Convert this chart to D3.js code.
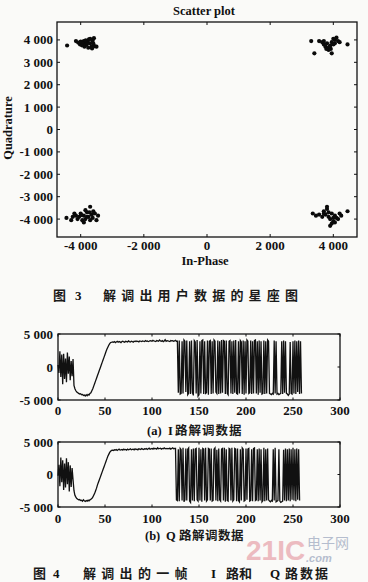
<!DOCTYPE html>
<html><head><meta charset="utf-8">
<script src="https://cdn.jsdelivr.net/npm/d3@7"></script>
<style>
html,body{margin:0;padding:0;background:#fafaf8;}
svg{display:block;}
.tk{font-family:"Liberation Serif","DejaVu Serif",serif;font-weight:bold;font-size:13px;fill:#111;}
.cj{font-family:"Noto Sans CJK SC",sans-serif;font-weight:bold;fill:#1a1a1a;}
</style></head>
<body>
<svg id="c" width="368" height="582"></svg>
<script>
// ---- constellation (scatter) data ----
const scatterI = [
-4430,-4150,-4080,-4020,-3980,-3940,-3900,-3860,-3820,-3780,-3740,-3700,-3660,-3620,-3580,-3560,-3880,-3760,-3640,-4000,-3920,-3840,-3700,-3600,-3800,-3960,-3500,
3300,3550,3650,3700,3750,3800,3850,3900,3950,4000,4050,4100,4150,3850,3780,3920,4000,3700,4450,3400,3950,4050,3880,4200,
-4450,-4300,-4150,-4100,-4050,-4000,-3950,-3900,-3850,-3800,-3750,-3700,-3650,-3600,-3550,-3500,-3700,-4200,-3900,-3800,-3980,-4250,-3620,-3720,-3450,-3850,
3350,3450,3550,3650,3700,3750,3800,3850,3900,3950,4000,4050,4100,4150,4250,4450,3900,3950,3850,4000,3700,4050,3800,4200];
const scatterQ = [
3750,3950,3880,3800,3900,3820,3950,3870,3780,3920,4020,3850,3700,3960,4080,3720,3700,3650,3620,3920,3860,3980,4050,3840,3820,3760,3700,
3950,3950,3900,3800,3700,3850,3650,3750,3900,3800,4000,4100,3950,3550,3600,3600,4050,3950,3800,3400,3400,3850,3700,3900,
-3950,-4050,-3850,-4000,-3900,-3750,-4050,-3850,-4000,-3700,-3900,-4050,-3800,-3650,-3750,-4050,-3450,-3750,-4150,-3900,-3820,-3900,-3950,-3700,-3850,-3600,
-3750,-3850,-3800,-3900,-3650,-3800,-3550,-3900,-4000,-3750,-4100,-3850,-3950,-4000,-3850,-3650,-4300,-4200,-3700,-3950,-3750,-4150,-3450,-3750];
const scatterTicksX = [-4000,-2000,0,2000,4000];
const scatterTicksY = [-4000,-3000,-2000,-1000,0,1000,2000,3000,4000];

// ---- time series: I channel (one frame) ----
const seriesI = [
300,-900,2400,-1500,1900,-2600,2000,-1800,1300,-2300,2200,-1000,1600,-2000,900,-1400,1200,
-2800,-3300,-3600,-3800,-3900,-4000,-4100,-4050,-4200,-4150,-4300,-4250,-4400,-4200,-4350,-4150,-4250,-4000,-3900,
-3600,-3300,-2900,-2500,-2100,-1700,-1300,-900,-500,-100,300,700,1100,1500,1900,2300,2700,3000,3300,3550,3700,3750,3800,
3750,3850,3700,3800,3900,3750,3850,3800,3700,3850,3900,3800,3750,3900,3850,3800,3950,3850,3800,3900,3850,3750,3900,3850,
3950,3850,3900,3800,3950,3900,3850,3950,3900,3850,4000,3900,3950,3850,3900,4000,3950,3900,4050,3950,3900,3850,4000,3950,
3900,4100,3950,3900,4000,3850,3950,4150,3900,4000,3950,3900,3850,4000,3950,4000,3900,3950,4050,3900,
3900,-3900,4000,-4100,-4000,3900,-4000,4100,3900,-3800,4000,-4200,-4000,3900,-4100,4000,-3900,-4300,4000,3800,
-4000,4100,-4400,-4200,3900,-4000,4000,4100,-4100,3900,-4000,-3900,4000,-4200,3900,4000,-4100,3900,-4000,4100,
3900,-3800,-4000,4000,-4100,3900,-4000,4100,-3900,4000,3900,-4100,4000,-4000,-4200,3900,4000,-4000,3900,-4100,
4000,-3900,4100,-4000,-4100,3900,-4000,4000,3800,-4100,4000,-4200,3900,-4000,4100,3900,-4000,-3900,4000,-4100,
3900,-4000,4000,4100,-4000,3900,-4200,4000,-3900,3900,-4100,-4000,4000,-4100,3900,-4000,4100,3900,-4000,-4100,
-4200,-4000,-4100,4000,-4000,3900,-4100,-4000,-4200,-4100,-4000,3900,-4100,4000,-3900,3900,-4000,-4100,-4300,-4100,
3800,-4000,-4100,3900,-4000,4000,-4100,3900,-3800,4000,-4100,3900,-4000];

// ---- time series: Q channel (one frame) ----
const seriesQ = [
-200,1500,-1800,2600,-1200,2200,-2400,1700,-2000,2500,-1500,1900,-2600,1400,-1900,1000,-800,
-2500,-3200,-3500,-3700,-3800,-3900,-3850,-4000,-3950,-4100,-3900,-4050,-4150,-4000,-4100,-3950,-4050,-3900,-3800,-3700,
-3500,-3200,-2900,-2500,-2100,-1600,-1200,-800,-400,0,400,800,1200,1600,2000,2400,2800,3100,3400,3600,3700,3750,
3700,3800,3750,3850,3700,3800,3900,3750,3800,3850,3750,3900,3800,3850,3750,3900,3800,3850,3950,3800,3850,3900,3800,3950,
3850,3900,3800,3950,3900,3850,4000,3900,3850,3950,3900,4000,3850,3950,4050,3900,3950,4000,3900,4050,3950,4000,3900,4100,
3950,4000,4050,3900,4000,3950,4100,3950,4000,3950,4000,3950,4050,3900,4000,4100,3950,4000,
4000,-3900,-4000,3900,-4100,4000,3800,-4000,4100,-4200,-3900,4000,-4000,3900,4100,-4100,-4300,3900,-4000,4000,
-4100,3900,4000,-3900,-4100,4100,-4000,3900,-4200,4000,3900,-4000,4100,-4100,-3900,4000,3900,-4000,4000,-4100,
-4000,3900,4100,-4000,3800,-4100,4000,-3900,-4100,3900,4000,-4000,4100,-4200,3900,-4000,-4100,4000,3900,-4000,
4100,-4100,-3900,4000,3900,-4100,4000,-4000,-4200,3900,-4000,4100,3900,-4100,-4000,4000,-3900,3900,4000,-4100,
-4000,3900,-4100,4000,4100,-4000,-3900,3900,-4100,4000,-4000,3900,-4200,-4000,4100,-4100,3900,-4000,4000,-3900,
-4100,-4200,-4000,-4100,3900,-4000,4100,-4200,-4100,-4000,3900,-4100,-4300,-4200,-4100,3800,-4000,4000,-4100,3900,
-4000,4000,-4100,3900,-3900,4100,-4000,3900,-4100,4000,-3900,3900,-4000];
const timeTicksX = [0,50,100,150,200,250,300];
const timeTicksY = [-5000,0,5000];

// ---- texts ----
const scatterTitle = "Scatter plot";
const xLabel = "In-Phase";
const yLabel = "Quadrature";

const svg = d3.select("#c");
const fmt = v => (v < 0 ? "-" : "") + d3.format(",")(Math.abs(v)).replace(/,/g, " ");

function frame(g, x, y, tx, ty, tl) {
  const [x0, x1] = x.range(), [y0, y1] = y.range();
  g.append("rect").attr("x", x0).attr("y", y1).attr("width", x1 - x0).attr("height", y0 - y1)
    .attr("fill", "none").attr("stroke", "#111").attr("stroke-width", 1.3);
  tx.forEach(t => {
    const px = x(t);
    g.append("line").attr("x1", px).attr("x2", px).attr("y1", y0).attr("y2", y0 - tl).attr("stroke", "#111");
    g.append("line").attr("x1", px).attr("x2", px).attr("y1", y1).attr("y2", y1 + tl).attr("stroke", "#111");
  });
  ty.forEach(t => {
    const py = y(t);
    g.append("line").attr("y1", py).attr("y2", py).attr("x1", x0).attr("x2", x0 + tl).attr("stroke", "#111");
    g.append("line").attr("y1", py).attr("y2", py).attr("x1", x1).attr("x2", x1 - tl).attr("stroke", "#111");
  });
}

// ---------- scatter ----------
{
  const x = d3.scaleLinear().domain([-4750, 4750]).range([57, 357]);
  const y = d3.scaleLinear().domain([-4800, 4800]).range([237, 22]);
  const g = svg.append("g");
  frame(g, x, y, scatterTicksX, scatterTicksY, 3);
  g.selectAll("circle.p").data(scatterI).enter().append("circle")
    .attr("cx", (d, i) => x(d)).attr("cy", (d, i) => y(scatterQ[i])).attr("r", 2.1).attr("fill", "#0a0a0a");
  g.selectAll("text.xt").data(scatterTicksX).enter().append("text").attr("class", "tk")
    .attr("x", d => x(d)).attr("y", 249.5).attr("text-anchor", "middle").text(fmt);
  g.selectAll("text.yt").data(scatterTicksY).enter().append("text").attr("class", "tk")
    .attr("x", 53).attr("y", d => y(d) + 4.5).attr("text-anchor", "end").text(fmt);
  g.append("text").attr("class", "tk").style("font-size", "12.5px").attr("x", 204).attr("y", 15).attr("text-anchor", "middle").text(scatterTitle);
  g.append("text").attr("class", "tk").style("font-size", "12.5px").attr("x", 205).attr("y", 264.5).attr("text-anchor", "middle").text(xLabel);
  g.append("text").attr("class", "tk").style("font-size", "12.5px").attr("transform", "translate(12,128) rotate(-90)").attr("text-anchor", "middle").text(yLabel);
}

// captions
function cap(parts, y, size) {
  parts.forEach(p => {
    svg.append("text").attr("class", p[3] ? "tk" : "cj").attr("x", p[0]).attr("y", y)
      .style("font-size", size + "px").style("letter-spacing", (p[2] || 0) + "px").text(p[1]);
  });
}
cap([[53, "图"], [75, "3", 0, true], [103, "解调出用户数据的星座图", 5.2]], 300, 13);

// ---------- time plots ----------
function tplot(data, top, bottom, labelY) {
  const x = d3.scaleLinear().domain([0, 300]).range([58, 340]);
  const y = d3.scaleLinear().domain([-5000, 5000]).range([bottom, top]);
  const g = svg.append("g");
  frame(g, x, y, timeTicksX, timeTicksY, 2.5);
  g.append("path").datum(data).attr("fill", "none").attr("stroke", "#111").attr("stroke-width", 1.3)
    .attr("d", d3.line().x((d, i) => x(i)).y(d => y(d)));
  g.selectAll("text.xt").data(timeTicksX).enter().append("text").attr("class", "tk")
    .attr("x", d => x(d)).attr("y", labelY).attr("text-anchor", "middle").text(fmt);
  g.selectAll("text.yt").data(timeTicksY).enter().append("text").attr("class", "tk")
    .attr("x", 53).attr("y", d => y(d) + 4.5).attr("text-anchor", "end").text(fmt);
}
tplot(seriesI, 334, 400, 415);
cap([[147, "(a)", 0, true], [168, "I", 0, true], [175, "路解调数据", 1]], 435, 12.5);
tplot(seriesQ, 442, 507, 523);
cap([[145, "(b)", 0, true], [166, "Q", 0, true], [179, "路解调数据", 0.5]], 540, 12.5);

// watermark
svg.append("text").attr("x", 246).attr("y", 560).style("font-family", "Liberation Sans, sans-serif")
  .style("font-weight", "bold").style("font-size", "28px").style("fill", "#e8a6ae").style("opacity", 0.75).text("21IC");
svg.append("text").attr("x", 307).attr("y", 548).style("font-family", "Noto Sans CJK SC")
  .style("font-size", "14px").style("fill", "#a4aec4").style("opacity", 0.8).text("电子网");
svg.append("text").attr("x", 306).attr("y", 562).style("font-family", "Liberation Sans, sans-serif")
  .style("font-weight", "bold").style("font-style", "italic").style("font-size", "11px").style("fill", "#a4aec4").style("opacity", 0.8).text(".com");

cap([[33, "图"], [53, "4", 0, true], [83, "解调出的一帧", 5.3], [211, "I", 0, true], [226, "路和", 0], [270, "Q", 0, true], [285, "路数据", 2]], 578, 13);
</script>
</body></html>
